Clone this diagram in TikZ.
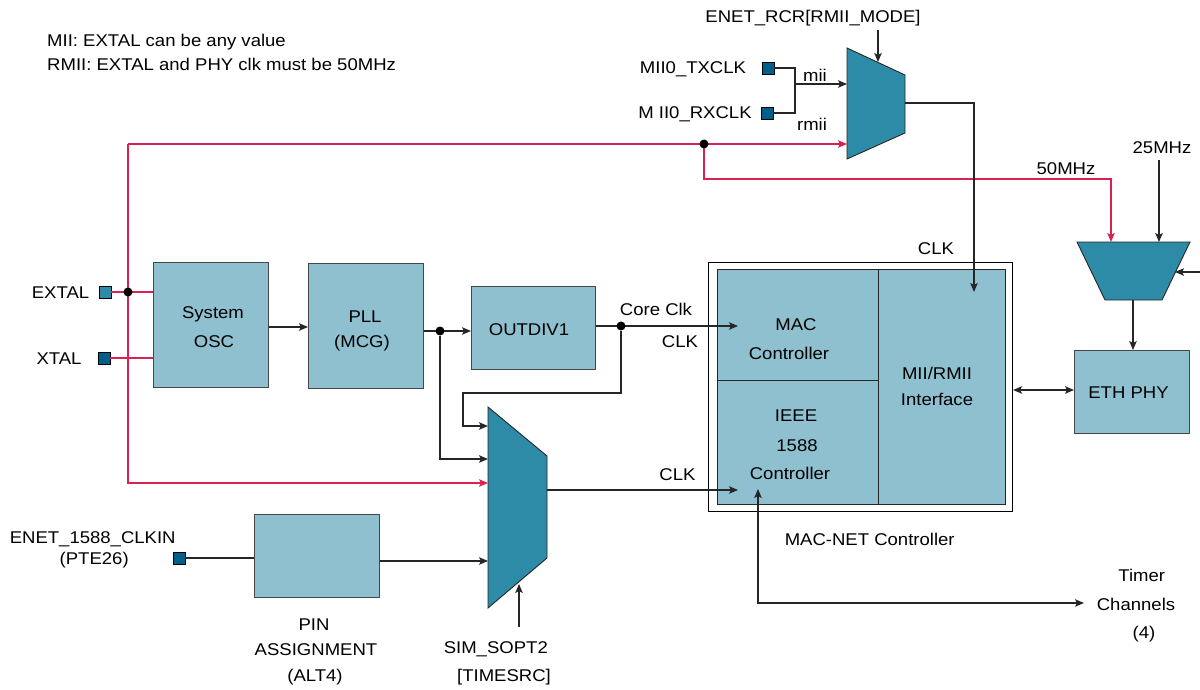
\documentclass[tikz,border=0pt]{standalone}
\usepackage{fontspec}
\setmainfont{Liberation Sans}[FakeStretch=1.09]
\usetikzlibrary{arrows.meta}
\definecolor{blkfill}{RGB}{142,192,207}
\definecolor{muxfill}{RGB}{46,139,168}
\definecolor{pindark}{RGB}{0,94,138}
\definecolor{redline}{RGB}{218,34,82}
\definecolor{edgegray}{RGB}{70,70,70}
\begin{document}
\begin{tikzpicture}[x=1pt,y=-1pt,
  font=\fontsize{17}{20}\selectfont,
  >={Stealth[length=9pt,width=7.5pt,inset=2pt]},
  block/.style={draw=edgegray, fill=blkfill, line width=1.2pt, inner sep=0pt, anchor=north west},
  muxshape/.style={draw=black!85, fill=muxfill, line width=0.9pt},
  pin/.style={draw=black, fill=pindark, line width=0.8pt, minimum size=12pt, inner sep=0pt},
  pinlight/.style={pin, fill=muxfill},
  wire/.style={draw=black!85, line width=1.1pt},
  rwire/.style={draw=redline, line width=1.1pt},
  lbl/.style={anchor=base, inner sep=0pt},
  dotn/.style={circle, fill=black, inner sep=0pt, minimum size=9pt}
]
\useasboundingbox (0,0) rectangle (1200,690);

% notes
\node[anchor=base west, inner sep=0pt] (note1) at (47,47) {MII: EXTAL can be any value};
\node[anchor=base west, inner sep=0pt] (note2) at (47,71) {RMII: EXTAL and PHY clk must be 50MHz};

% MAC-NET outer box
\node[draw=black, fill=white, line width=1.1pt, anchor=north west, minimum width=304pt, minimum height=249pt, inner sep=0pt] (macnet) at (708,262) {};

% blocks
\node[block, minimum width=115pt, minimum height=125pt] (osc) at (153,262) {};
\node[block, minimum width=115pt, minimum height=125pt] (pll) at (308,263) {};
\node[block, minimum width=124pt, minimum height=83pt] (outdiv) at (471,286) {};
\node[block, minimum width=125pt, minimum height=83pt] (pinas) at (254,514) {};
\node[block, minimum width=115pt, minimum height=83pt] (phy) at (1074,350) {};
\node[block, draw=black!85, minimum width=161pt, minimum height=111pt] (mac) at (717,269) {};
\node[block, draw=black!85, minimum width=161pt, minimum height=124pt] (ieee) at (717,380) {};
\node[block, draw=black!85, minimum width=127pt, minimum height=235pt] (mii) at (878,269) {};

% muxes
\draw[muxshape] (847,48) -- (905,75) -- (905,133) -- (847,159) -- cycle;
\draw[muxshape] (488,407) -- (547,456) -- (547,558) -- (488,608) -- cycle;
\draw[muxshape] (1077,242) -- (1190,242) -- (1162,300) -- (1105,300) -- cycle;

% mux anchor coordinates
\coordinate (m1a) at (847,84);
\coordinate (m1b) at (847,144);
\coordinate (m1sel) at (878,62);
\coordinate (m1out) at (905,103);
\coordinate (m2a) at (488,426);
\coordinate (m2b) at (488,459);
\coordinate (m2c) at (488,483);
\coordinate (m2d) at (488,561);
\coordinate (m2sel) at (519,584);
\coordinate (m2out) at (547,490);
\coordinate (m3a) at (1111,242);
\coordinate (m3b) at (1159,242);
\coordinate (m3sel) at (1175,272);
\coordinate (m3out) at (1133,300);

% pins
\node[pinlight] (extal) at (105,292) {};
\node[pin] (xtal) at (104,358) {};
\node[pin] (txclk) at (768,68) {};
\node[pin] (rxclk) at (767,113) {};
\node[pin] (clkin) at (179,558) {};

% free-end coordinates
\coordinate (rcrsrc) at (878,30);
\coordinate (simsrc) at (519,627);
\coordinate (mhz25) at (1159,160);
\coordinate (rightsrc) at (1200,272);
\coordinate (timer) at (1084,603);
\coordinate (ieeein) at (758,489);
\coordinate (jmii) at (795,84);
\coordinate (rtop) at (128,144);

% red wires
\draw[rwire] (extal.east) -- (extal.east -| osc.west);
\draw[rwire] (xtal.east) -- (xtal.east -| osc.west);
\draw[rwire,->] (rtop) -- (m1b);
\draw[rwire,->] (rtop) -- (128,483) -- (m2c);
\draw[rwire,->] (704,144) -- (704,179) -- (1111,179) -- (m3a);
\node[dotn] (dex) at (128,292) {};
\node[dotn] (dred) at (704,144) {};

% black wires
\draw[wire,->] (rcrsrc) -- (m1sel);
\draw[wire] (txclk.east) -- (795,68) -- (795,113) -- (rxclk.east);
\draw[wire,->] (jmii) -- (m1a);
\draw[wire,->] (m1out) -- (974,103) -- (974,292);
\draw[wire,->] (osc.east |- 0,327) -- (pll.west |- 0,327);
\draw[wire,->] (pll.east |- 0,331) -- (outdiv.west |- 0,331);
\node[dotn] (dpll) at (440,331) {};
\draw[wire,->] (dpll) -- (440,459) -- (m2b);
\draw[wire,->] (outdiv.east |- 0,326) -- (738,326);
\node[dotn] (dcore) at (621,326) {};
\draw[wire,->] (dcore) -- (621,393) -- (463,393) -- (463,426) -- (m2a);
\draw[wire] (clkin.east) -- (clkin.east -| pinas.west);
\draw[wire,->] (pinas.east |- 0,561) -- (m2d);
\draw[wire,->] (simsrc) -- (m2sel);
\draw[wire,->] (m2out) -- (738,490);
\draw[wire,<->] (ieeein) -- (758,603) -- (timer);
\draw[wire,->] (mhz25) -- (m3b);
\draw[wire,->] (rightsrc) -- (m3sel);
\draw[wire,->] (m3out) -- (phy.north -| m3out);
\draw[wire,<->] (macnet.east |- 0,390) -- (phy.west |- 0,390);

% labels
\node[lbl] (trcr) at (813,23) {ENET\_RCR[RMII\_MODE]};
\node[lbl] (ttx) at (693,74) {MII0\_TXCLK};
\node[lbl] (trx) at (695,119) {M II0\_RXCLK};
\node[lbl] (tmii) at (815,82) {mii};
\node[lbl] (trmii) at (812,131) {rmii};
\node[lbl] (t50) at (1066,175) {50MHz};
\node[lbl] (t25) at (1162,154) {25MHz};
\node[lbl] (tclk1) at (936,254) {CLK};
\node[lbl] (textal) at (60.5,298) {EXTAL};
\node[lbl] (txtal) at (59,364) {XTAL};
\node[lbl] (tosc1) at (213,318) {System};
\node[lbl] (tosc2) at (214,347) {OSC};
\node[lbl] (tpll1) at (365,322) {PLL};
\node[lbl] (tpll2) at (362,347) {(MCG)};
\node[lbl] (tdiv) at (529,335.5) {OUTDIV1};
\node[lbl] (tcore) at (656,315) {Core Clk};
\node[lbl] (tclk2) at (680,347) {CLK};
\node[lbl] (tclk3) at (677.5,480) {CLK};
\node[lbl] (tmac1) at (796,330.5) {MAC};
\node[lbl] (tmac2) at (789,359) {Controller};
\node[lbl] (tieee1) at (796,421.5) {IEEE};
\node[lbl] (tieee2) at (797,451) {1588};
\node[lbl] (tieee3) at (790,479) {Controller};
\node[lbl] (tmii1) at (937,379) {MII/RMII};
\node[lbl] (tmii2) at (937,405.7) {Interface};
\node[lbl] (tphy) at (1128.5,398) {ETH PHY};
\node[lbl] (tmacnet) at (869.7,545) {MAC-NET Controller};
\node[lbl] (ttim1) at (1141.7,581.7) {Timer};
\node[lbl] (ttim2) at (1136,610.7) {Channels};
\node[lbl] (ttim3) at (1144,638) {(4)};
\node[lbl] (tclkin1) at (92.7,543.3) {ENET\_1588\_CLKIN};
\node[lbl] (tclkin2) at (94.2,564) {(PTE26)};
\node[lbl] (tpin1) at (314,630) {PIN};
\node[lbl] (tpin2) at (316,655.5) {ASSIGNMENT};
\node[lbl] (tpin3) at (315,681) {(ALT4)};
\node[lbl] (tsim1) at (495.8,653.3) {SIM\_SOPT2};
\node[lbl] (tsim2) at (504,681.7) {[TIMESRC]};
\end{tikzpicture}
\end{document}
